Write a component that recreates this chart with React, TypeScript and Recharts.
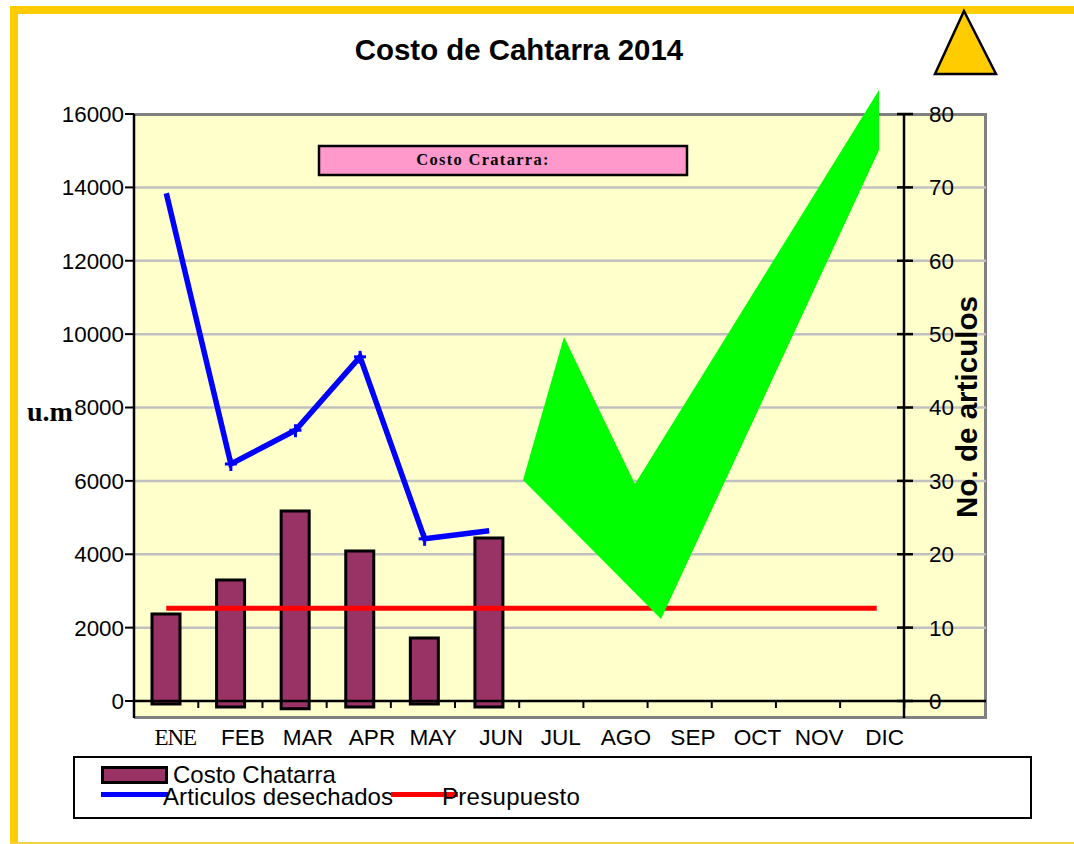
import React from "react";
import {
  ComposedChart,
  Bar,
  Line,
  XAxis,
  YAxis,
  CartesianGrid,
  Legend,
  ReferenceLine,
} from "recharts";

const months = ["ENE", "FEB", "MAR", "APR", "MAY", "JUN", "JUL", "AGO", "SEP", "OCT", "NOV", "DIC"];
const costoChatarra = [2370, 3300, 5180, 4090, 1720, 4440];
const costoBase = [-80, -160, -210, -160, -80, -160];
const articulos = [69.2, 32.3, 36.9, 46.9, 22.1, 23.2];
const presupuesto = [2530, 2530, 2530, 2530, 2530, 2530, 2530, 2530, 2530, 2530, 2530, 2530];

const leftTicks = [0, 2000, 4000, 6000, 8000, 10000, 12000, 14000, 16000];
const rightTicks = [0, 10, 20, 30, 40, 50, 60, 70, 80];
const gridValues = [2000, 4000, 6000, 8000, 10000, 12000, 14000];

const data = months.map((month, i) => ({
  month,
  costo: i < costoChatarra.length ? [costoBase[i], costoChatarra[i]] : null,
  articulos: i < articulos.length ? articulos[i] : null,
  presupuesto: presupuesto[i],
}));

const sans = "'Liberation Sans', Arial, sans-serif";
const serif = "'Liberation Serif', 'Times New Roman', serif";
const labelNudge = [9, 12, 12.5, 12, 8.5, 12, 7, 7.5, 10, 10, 7, 8];

function MonthTick({ x, index, payload }: any) {
  // tick marks run slightly tighter than the category centres
  const right = payload.coordinate + 32 - index * 0.4;
  return (
    <g>
      <line x1={right} x2={right} y1={701} y2={708} stroke="#000" strokeWidth={2} />
      <text
        x={x + labelNudge[index]}
        y={745}
        textAnchor="middle"
        fontFamily={index === 0 ? serif : sans}
        fontSize={index === 0 ? 23 : 22.6}
        letterSpacing={index === 0 ? -1 : 0}
        fill="#000"
      >
        {payload.value}
      </text>
    </g>
  );
}

function RightTick({ y, payload }: any) {
  return (
    <g>
      <line x1={897} x2={913} y1={y} y2={y} stroke="#000" strokeWidth={2.5} />
      <text x={929} y={y + 8} fontFamily={sans} fontSize={22.4} fill="#000">
        {payload.value}
      </text>
    </g>
  );
}

function CrossDot({ cx, cy, index }: any) {
  if (cy == null || index === 0 || index === 5) return <g key={index} />;
  return (
    <g key={index} stroke="#0000ff" strokeWidth={3}>
      <line x1={cx - 6} x2={cx + 6} y1={cy} y2={cy} />
      <line x1={cx} x2={cx} y1={cy - 6} y2={cy + 7} />
    </g>
  );
}

function LegendBox({ payload }: any) {
  const items = payload as any[];
  const bar = items.find((p) => p.dataKey === "costo");
  const blue = items.find((p) => p.dataKey === "articulos");
  const red = items.find((p) => p.dataKey === "presupuesto");
  const text = { position: "absolute", fontFamily: sans, fontSize: 24, lineHeight: "22px", color: "#000", whiteSpace: "nowrap" } as const;
  return (
    <div style={{ position: "relative", width: 959, height: 63, boxSizing: "border-box", border: "2.5px solid #000", background: "#fff" }}>
      <div style={{ position: "absolute", left: 26, top: 8, width: 67, height: 18, boxSizing: "border-box", border: "3px solid #000", background: "#993366" }} />
      <div style={{ ...text, left: 98, top: 6 }}>{bar?.value}</div>
      <div style={{ position: "absolute", left: 26, top: 34, width: 67, height: 5, background: "#0000ff" }} />
      <div style={{ ...text, left: 88, top: 28, letterSpacing: 0.1 }}>{blue?.value}</div>
      <div style={{ position: "absolute", left: 316, top: 34, width: 67, height: 5, background: "#ff0000" }} />
      <div style={{ ...text, left: 367, top: 28, letterSpacing: 0.3 }}>{red?.value}</div>
    </div>
  );
}

export default function App() {
  return (
    <div style={{ position: "absolute", left: 0, top: 0, width: 1074, height: 844, overflow: "hidden", background: "#fff" }}>
      {/* slide frame */}
      <div style={{ position: "absolute", left: 10, top: 6, width: 1064, height: 8, background: "#ffcc00" }} />
      <div style={{ position: "absolute", left: 10, top: 6, width: 8, height: 838, background: "#ffcc00" }} />
      <div style={{ position: "absolute", left: 10, top: 842, width: 1064, height: 2, background: "#f5d040" }} />

      {/* plot background reaches past the right axis */}
      <div style={{ position: "absolute", left: 134, top: 113, width: 853, height: 606, boxSizing: "border-box", background: "#ffffcc", borderTop: "3px solid #808080", borderRight: "3px solid #808080", borderBottom: "3px solid #808080" }} />

      <div style={{ position: "absolute", left: 0, top: 0 }}>
        <ComposedChart
          width={1074}
          height={844}
          data={data}
          margin={{ top: 114, right: 0, bottom: 23, left: 0 }}
          barSize={28}
        >
          <CartesianGrid
            x={134}
            width={852}
            vertical={false}
            horizontalValues={gridValues}
            stroke="#c0c0c0"
            strokeWidth={2.5}
            yAxisId="left"
          />
          <XAxis
            dataKey="month"
            height={40}
            axisLine={false}
            tickLine={false}
            tick={MonthTick}
            interval={0}
            padding={{ left: 0, right: -5 }}
          />
          <YAxis
            yAxisId="left"
            width={134}
            domain={[-463, 16000]}
            ticks={leftTicks}
            interval={0}
            allowDataOverflow
            tickSize={9}
            tickMargin={1}
            axisLine={{ stroke: "#000", strokeWidth: 2.5 }}
            tickLine={{ stroke: "#000", strokeWidth: 2 }}
            tick={{ fontFamily: sans, fontSize: 22.4, fill: "#000" }}
          />
          <YAxis
            yAxisId="right"
            orientation="right"
            width={170}
            domain={[-2.32, 80]}
            ticks={rightTicks}
            interval={0}
            allowDataOverflow
            axisLine={{ stroke: "#000", strokeWidth: 2.5 }}
            tickLine={false}
            tick={RightTick}
          />
          <ReferenceLine
            yAxisId="left"
            y={0}
            shape={(p: any) => <line x1={p.x1} x2={p.x2 + 82} y1={p.y1} y2={p.y2} stroke="#000" strokeWidth={2.5} />}
          />
          <Bar yAxisId="left" dataKey="costo" name="Costo Chatarra" fill="#993366" stroke="#000" strokeWidth={3} isAnimationActive={false} />
          <Line yAxisId="right" type="linear" dataKey="articulos" name="Articulos desechados" stroke="#0000ff" strokeWidth={5.5} strokeLinecap="butt" dot={CrossDot} connectNulls={false} isAnimationActive={false} />
          <Line yAxisId="left" type="linear" dataKey="presupuesto" name="Presupuesto" stroke="#ff0000" strokeWidth={5} strokeLinecap="butt" dot={false} isAnimationActive={false} />
          <Legend
            verticalAlign="bottom"
            height={62}
            content={LegendBox}
            wrapperStyle={{ left: 73, top: 756, bottom: "auto", width: 959, height: 63 }}
          />
        </ComposedChart>
      </div>

      {/* annotations laid over the chart */}
      <svg width={1074} height={844} style={{ position: "absolute", left: 0, top: 0, pointerEvents: "none" }}>
        <polygon points="523,480 564,337 635,484 879,90 879,150 661,619" fill="#00ff00" />
        <polygon points="964,11 935,74 996,74" fill="#ffcc00" stroke="#000" strokeWidth={2.5} />
        <text x={519} y={60} textAnchor="middle" fontFamily={sans} fontWeight="bold" fontSize={29.4} fill="#000">
          Costo de Cahtarra 2014
        </text>
        <rect x={319} y={146} width={368} height={29} fill="#ff99cc" stroke="#000" strokeWidth={2.5} />
        <text x={483} y={165} textAnchor="middle" fontFamily={serif} fontWeight="bold" fontSize={16.5} letterSpacing={1.3} fill="#000">
          Costo Cratarra:
        </text>
        <text x={27} y={421} fontFamily={serif} fontWeight="bold" fontSize={28} fill="#000">
          u.m
        </text>
        <text transform="translate(977,407) rotate(-90)" textAnchor="middle" fontFamily={sans} fontWeight="bold" fontSize={29.6} fill="#000">
          No. de articulos
        </text>
      </svg>
    </div>
  );
}
